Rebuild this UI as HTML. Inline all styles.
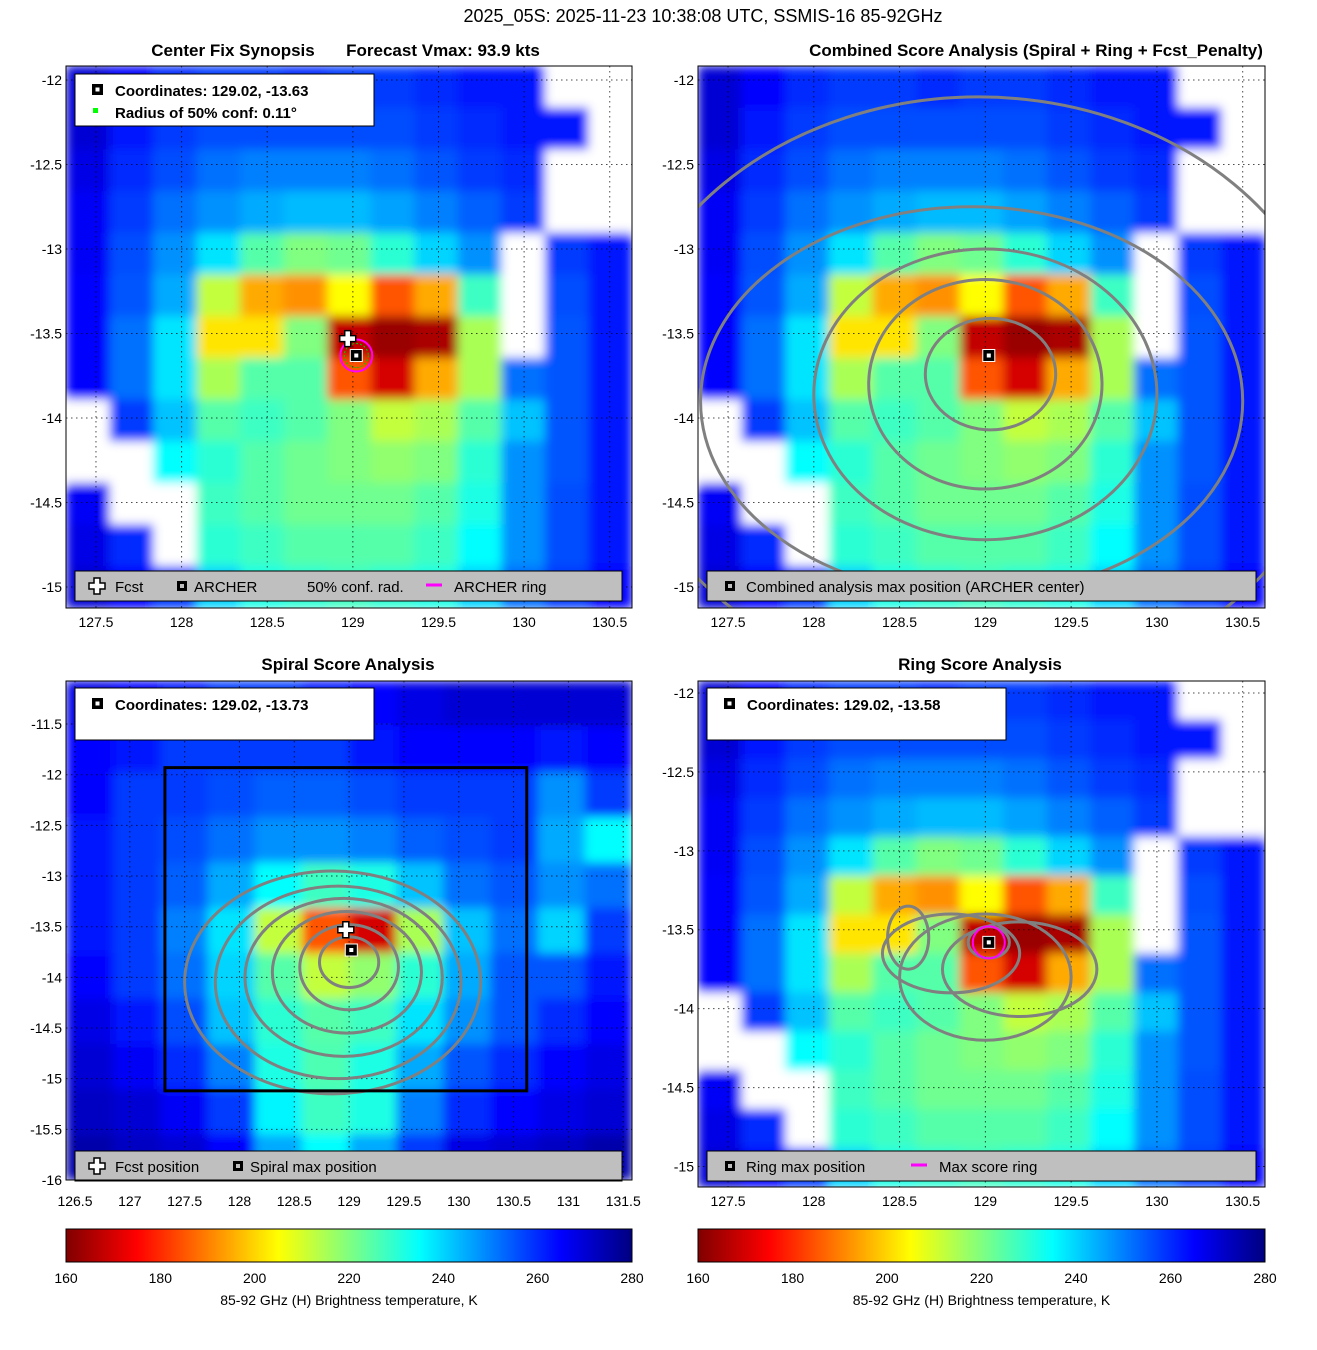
<!DOCTYPE html>
<html><head><meta charset="utf-8"><style>
html,body{margin:0;padding:0;background:#fff}
svg{display:block;font-family:"Liberation Sans","DejaVu Sans",sans-serif}
</style></head><body>
<svg id="fig" width="1317" height="1350" viewBox="0 0 1317 1350" xmlns="http://www.w3.org/2000/svg">
<defs><filter id="blur" x="0" y="0" width="1" height="1"><feGaussianBlur stdDeviation="5" edgeMode="duplicate"/></filter></defs>
<text x="703" y="22" font-size="18" text-anchor="middle">2025_05S: 2025-11-23 10:38:08 UTC, SSMIS-16 85-92GHz</text>
<text x="233" y="56" font-size="17" font-weight="bold" text-anchor="middle">Center Fix Synopsis</text>
<text x="443" y="56" font-size="17" font-weight="bold" text-anchor="middle">Forecast Vmax: 93.9 kts</text>
<text x="1036" y="56" font-size="17" font-weight="bold" text-anchor="middle">Combined Score Analysis (Spiral + Ring + Fcst_Penalty)</text>
<text x="348" y="670" font-size="17" font-weight="bold" text-anchor="middle">Spiral Score Analysis</text>
<text x="980" y="670" font-size="17" font-weight="bold" text-anchor="middle">Ring Score Analysis</text>
</svg>
<script>
// ---- data: brightness temperature grids (K), null = missing data ----
const mainGrid = [
[270,265,260,258,258,260,258,258,260,262,262,null,null],
[270,262,258,256,256,256,256,256,258,260,262,262,null],
[268,260,256,252,250,250,250,252,255,258,260,null,null],
[266,258,252,248,245,243,243,246,250,254,258,null,null],
[266,256,248,238,225,220,222,230,240,248,null,258,262],
[265,255,245,212,195,192,205,185,195,228,null,256,262],
[265,252,238,202,202,220,168,163,165,215,null,255,262],
[265,252,238,215,225,225,185,170,195,215,252,255,262],
[null,258,242,225,228,225,220,212,215,225,242,255,262],
[null,null,235,230,225,222,220,218,220,230,248,255,262],
[266,null,null,228,225,222,222,222,225,232,248,256,262],
[268,260,null,230,228,225,225,225,228,235,248,256,262],
[270,265,258,240,232,230,228,230,232,240,252,258,265]
];
const spiralGrid = [
[268,265,262,258,258,262,265,268,270,270,270,270],
[265,262,258,258,258,258,262,265,265,265,262,265],
[265,258,258,256,254,254,256,258,258,258,248,258],
[262,258,256,252,248,248,250,254,256,258,245,235],
[262,258,254,245,235,228,232,242,252,255,248,252],
[262,258,250,238,212,185,170,215,242,252,240,258],
[265,258,252,240,225,212,218,230,245,255,255,262],
[268,262,256,242,230,225,228,238,248,255,260,265],
[270,266,260,250,232,226,232,245,255,260,265,268],
[272,270,266,258,236,228,232,250,260,265,268,270],
[275,272,270,265,245,235,245,258,268,270,272,275]
];
const mainXTicks = [127.5,128,128.5,129,129.5,130,130.5];
const mainYTicks = [-12,-12.5,-13,-13.5,-14,-14.5,-15];
const spiralXTicks = [126.5,127,127.5,128,128.5,129,129.5,130,130.5,131,131.5];
const spiralYTicks = [-11.5,-12,-12.5,-13,-13.5,-14,-14.5,-15,-15.5,-16];
const cbTicks = [160,180,200,220,240,260,280];
// contours: [centerLon, centerLat, radiusLon, radiusLat]
const combinedContours = [[129.03,-13.74,0.38,0.33],[129.0,-13.8,0.68,0.62],[129.0,-13.86,1.0,0.86],[128.92,-13.9,1.58,1.15],[128.96,-13.85,2.1,1.75]];
const spiralContours = [[129.0,-13.85,0.27,0.25],[129.0,-13.9,0.45,0.42],[128.98,-13.95,0.68,0.6],[128.95,-14.0,0.9,0.78],[128.9,-14.05,1.12,0.95],[128.85,-14.05,1.35,1.1]];
const ringContours = [[129.02,-13.58,0.12,0.1],[128.55,-13.55,0.12,0.2],[128.8,-13.65,0.4,0.25],[129.2,-13.75,0.45,0.3],[129.0,-13.8,0.5,0.4]];

const NS="http://www.w3.org/2000/svg";
const fig=document.getElementById('fig');
function el(tag,attrs,parent){const e=document.createElementNS(NS,tag);for(const k in attrs)e.setAttribute(k,attrs[k]);(parent||fig).appendChild(e);return e;}
function cl(x){return Math.max(0,Math.min(1,x));}
function jet(v){const t=cl((280-v)/120);const r=cl(Math.min(4*t-1.5,-4*t+4.5)),g=cl(Math.min(4*t-0.5,-4*t+3.5)),b=cl(Math.min(4*t+0.5,-4*t+2.5));return `rgb(${Math.round(r*255)},${Math.round(g*255)},${Math.round(b*255)})`;}

function panel(p){
  const sx=v=>p.x0+(v-p.xmin)/(p.xmax-p.xmin)*p.w;
  const sy=v=>p.y0+(p.ymax-v)/(p.ymax-p.ymin)*p.h;
  const g=el('g',{});
  
  
  const cid='clip'+p.name;
  const cp=el('clipPath',{id:cid},g);el('rect',{x:p.x0,y:p.y0,width:p.w,height:p.h},cp);
  const hm=el('g',{'clip-path':`url(#${cid})`},g);
  
  
  const cells=el('g',{filter:'url(#blur)'},hm);
  el('rect',{x:p.x0,y:p.y0,width:p.w,height:p.h,fill:'#fff'},cells);
  const rows=p.grid.length,cols=p.grid[0].length;
  const dx=(p.xmax-p.xmin)/cols,dy=(p.ymax-p.ymin)/rows;
  p.grid.forEach((row,r)=>row.forEach((v,c)=>{
    const x1=sx(p.xmin+c*dx),x2=sx(p.xmin+(c+1)*dx),y1=sy(p.ymax-r*dy),y2=sy(p.ymax-(r+1)*dy);
    const cell=el('rect',{x:x1,y:y1,width:x2-x1+0.6,height:y2-y1+0.6,fill:v===null?'#fff':jet(v)},cells);
    
    
  }));
  p.xt.forEach(t=>{el('line',{x1:sx(t),x2:sx(t),y1:p.y0,y2:p.y0+p.h,stroke:'#000','stroke-width':1,'stroke-dasharray':'1.5,3.5',opacity:0.7},hm);});
  p.yt.forEach(t=>{el('line',{y1:sy(t),y2:sy(t),x1:p.x0,x2:p.x0+p.w,stroke:'#000','stroke-width':1,'stroke-dasharray':'1.5,3.5',opacity:0.7},hm);});
  (p.contours||[]).forEach(c=>{
    const e=el('ellipse',{cx:sx(c[0]),cy:sy(c[1]),rx:Math.abs(sx(c[0]+c[2])-sx(c[0])),ry:Math.abs(sy(c[1]-c[3])-sy(c[1])),fill:'none',stroke:'#808080','stroke-width':3},hm);
    
    
  });
  p.xt.forEach(t=>{const tx=el('text',{x:sx(t),y:p.y0+p.h+(p.xlOff||19),'font-size':14,'text-anchor':'middle'},g);tx.textContent=t;
    });
  p.yt.forEach(t=>{const tx=el('text',{x:p.x0-4,y:sy(t)+5,'font-size':14,'text-anchor':'end'},g);tx.textContent=t;
    });
  return {sx,sy,g,hm};
}
function marker(x,y,parent){
  const m=el('g',{},parent);
  el('rect',{x:x-6,y:y-6,width:12,height:12,fill:'#000',stroke:'#fff','stroke-width':1},m);
  el('rect',{x:x-2,y:y-2,width:4,height:4,fill:'#fff'},m);
}
function cross(x,y,parent){
  const m=el('path',{d:`M${x-3},${y-8}h6v5h5v6h-5v5h-6v-5h-5v-6h5z`,fill:'#fff',stroke:'#000','stroke-width':1.5},parent);
  
}
function infoBox(x,y,lines,parent){
  const b=el('g',{},parent);
  el('rect',{x:x,y:y,width:299,height:52,fill:'#fff',stroke:'#000','stroke-width':1},b);
  lines.forEach((l,i)=>{
    if(l.sq){el('rect',{x:x+17,y:y+10+i*22,width:11,height:11,fill:'#000'},b);el('rect',{x:x+20.5,y:y+13.5+i*22,width:4,height:4,fill:'#fff'},b);}
    else{el('rect',{x:x+18,y:y+12+i*22,width:5,height:5,fill:'#0f0'},b);}
    const t=el('text',{x:x+40,y:y+22+i*22,'font-size':15,'font-weight':'bold'},b);t.textContent=l.t;
  });
}
function legend(x,y,w,items,parent){
  const b=el('g',{},parent);
  el('rect',{x:x,y:y,width:w,height:30,fill:'#bfbfbf',stroke:'#000','stroke-width':1},b);
  items.forEach(it=>{
    if(it.k==='cross')cross(x+it.dx,y+15,b);
    if(it.k==='sq'){el('rect',{x:x+it.dx-5,y:y+10,width:10,height:10,fill:'#000'},b);el('rect',{x:x+it.dx-2,y:y+13,width:4,height:4,fill:'#bfbfbf'},b);}
    if(it.k==='line')el('line',{x1:x+it.dx-8,x2:x+it.dx+8,y1:y+14,y2:y+14,stroke:'#f0f','stroke-width':3},b);
    const t=el('text',{x:x+it.tx,y:y+21,'font-size':15},b);t.textContent=it.t;
    
  });
}
function frame(x,y,w,h){el('rect',{x,y,width:w,height:h,fill:'none',stroke:'#000','stroke-width':1});}

// Top-left
let P=panel({name:'center-fix-panel',x0:66,y0:66,w:566,h:542,xmin:127.325,xmax:130.63,ymin:-15.124,ymax:-11.917,grid:mainGrid,xt:mainXTicks,yt:mainYTicks});
el('circle',{cx:P.sx(129.02),cy:P.sy(-13.63),r:16,fill:'none',stroke:'#f0f','stroke-width':2},P.hm);
el('circle',{cx:P.sx(129.02),cy:P.sy(-13.63),r:12,fill:'none',stroke:'#0c0','stroke-width':1,'stroke-dasharray':'2,2'},P.hm);
cross(P.sx(128.97),P.sy(-13.53),P.g);marker(P.sx(129.02),P.sy(-13.63),P.g);
infoBox(75,74,[{sq:1,t:'Coordinates: 129.02, -13.63'},{sq:0,t:'Radius of 50% conf: 0.11°'}],P.g);
legend(75,571,547,[{k:'cross',dx:22,tx:40,t:'Fcst'},{k:'sq',dx:107,tx:119,t:'ARCHER'},{k:'none',tx:232,t:'50% conf. rad.'},{k:'line',dx:359,tx:379,t:'ARCHER ring'}],P.g);
frame(66,66,566,542);

// Top-right
P=panel({name:'combined-score-panel',x0:698,y0:66,w:567,h:542,xmin:127.325,xmax:130.63,ymin:-15.124,ymax:-11.917,grid:mainGrid,xt:mainXTicks,yt:mainYTicks,contours:combinedContours});
marker(P.sx(129.02),P.sy(-13.63),P.g);
legend(707,571,549,[{k:'sq',dx:23,tx:39,t:'Combined analysis max position (ARCHER center)'}],P.g);
frame(698,66,567,542);

// Bottom-left
P=panel({name:'spiral-score-panel',x0:66,y0:681,w:566,h:499,xmin:126.418,xmax:131.58,ymin:-16.0,ymax:-11.075,grid:spiralGrid,xt:spiralXTicks,yt:spiralYTicks,contours:spiralContours,xlOff:26});
const box=el('rect',{x:P.sx(127.32),y:P.sy(-11.93),width:P.sx(130.62)-P.sx(127.32),height:P.sy(-15.12)-P.sy(-11.93),fill:'none',stroke:'#000','stroke-width':3},P.hm);


cross(P.sx(128.97),P.sy(-13.53),P.g);marker(P.sx(129.02),P.sy(-13.73),P.g);
infoBox(75,688,[{sq:1,t:'Coordinates: 129.02, -13.73'}],P.g);
legend(75,1151,547,[{k:'cross',dx:22,tx:40,t:'Fcst position'},{k:'sq',dx:163,tx:175,t:'Spiral max position'}],P.g);
frame(66,681,566,499);

// Bottom-right
P=panel({name:'ring-score-panel',x0:698,y0:681,w:567,h:506,xmin:127.325,xmax:130.63,ymin:-15.13,ymax:-11.924,grid:mainGrid,xt:mainXTicks,yt:mainYTicks,contours:ringContours});
el('circle',{cx:P.sx(129.02),cy:P.sy(-13.58),r:16,fill:'none',stroke:'#f0f','stroke-width':2},P.hm);
marker(P.sx(129.02),P.sy(-13.58),P.g);
infoBox(707,688,[{sq:1,t:'Coordinates: 129.02, -13.58'}],P.g);
legend(707,1151,549,[{k:'sq',dx:23,tx:39,t:'Ring max position'},{k:'line',dx:212,tx:232,t:'Max score ring'}],P.g);
frame(698,681,567,506);

// Colorbars
const defs=el('defs',{});
const lg=el('linearGradient',{id:'jetgrad',x1:0,x2:1,y1:0,y2:0},defs);
for(let i=0;i<=24;i++){const v=160+i*5;el('stop',{offset:(i/24),'stop-color':jet(v)},lg);}
[[66,566],[698,567]].forEach((c,k)=>{
  const g=el('g',{});
  el('rect',{x:c[0],y:1229,width:c[1],height:33,fill:'url(#jetgrad)',stroke:'#000','stroke-width':1},g);
  cbTicks.forEach(t=>{const x=c[0]+(t-160)/120*c[1];
    const tx=el('text',{x:x,y:1283,'font-size':14,'text-anchor':'middle'},g);tx.textContent=t;
    });
  const lab=el('text',{x:c[0]+c[1]/2,y:1305,'font-size':14,'text-anchor':'middle'},g);lab.textContent='85-92 GHz (H) Brightness temperature, K';
  
});
</script>
</body></html>
